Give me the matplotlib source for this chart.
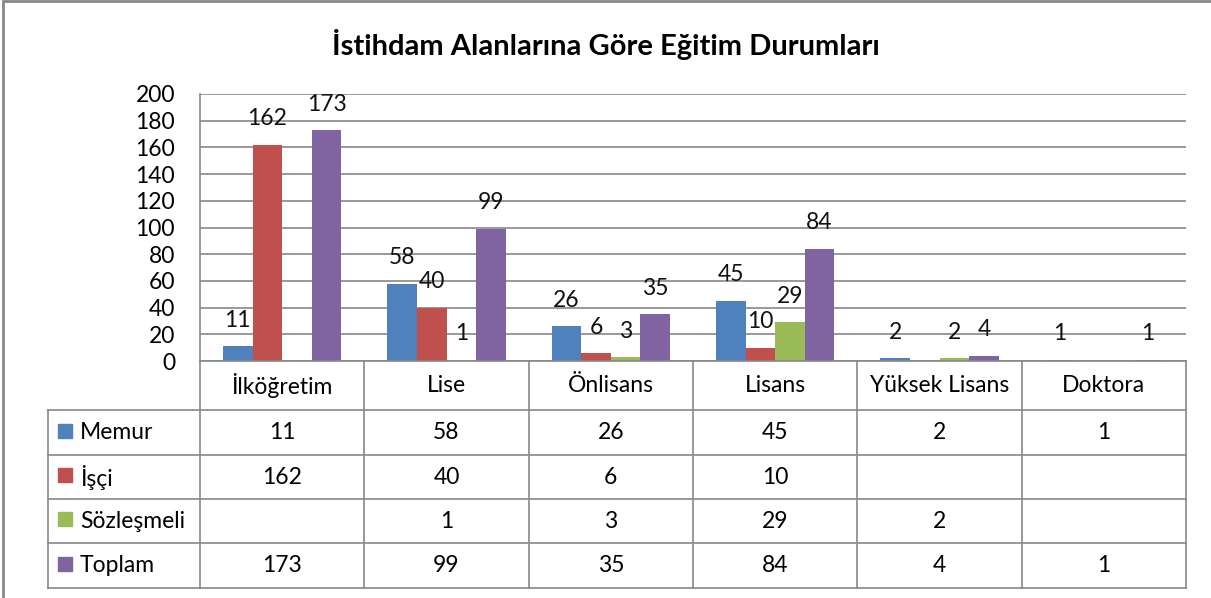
import matplotlib.pyplot as plt
from matplotlib.lines import Line2D
from matplotlib.patches import Rectangle
import numpy as np

plt.rcParams['font.family'] = ['Lato', 'DejaVu Sans']

categories = ['İlköğretim', 'Lise', 'Önlisans', 'Lisans', 'Yüksek Lisans', 'Doktora']
series_names = ['Memur', 'İşçi', 'Sözleşmeli', 'Toplam']
memur = [11, 58, 26, 45, 2, 1]
isci = [162, 40, 6, 10, None, None]
sozlesmeli = [None, 1, 3, 29, 2, None]
toplam = [173, 99, 35, 84, 4, 1]
colors = ['#4F81BD', '#C0504D', '#9BBB59', '#8064A2']

W, H = 1211, 598
FS = 16.5
fig = plt.figure(figsize=(W / 100, H / 100), dpi=100)

def fx(x):
    return x / W

def fy(y):
    return 1 - y / H

# outer chart border (only top/left visible in the crop)
fig.add_artist(Rectangle((fx(3), fy(640)), fx(1260), fy(1) - fy(640), fill=False,
                         edgecolor='#888888', lw=2, transform=fig.transFigure))

left, right, top, bottom = 200, 1186, 94, 361
ax = fig.add_axes([fx(left), fy(bottom), fx(right - left), fy(top) - fy(bottom)])

all_series = [memur, isci, sozlesmeli, toplam]
x = np.arange(len(categories))
bw = 0.18
for i, (vals, c) in enumerate(zip(all_series, colors)):
    pos = x + (i - 1.5) * bw
    v = [np.nan if a is None else a for a in vals]
    ax.bar(pos, v, bw, color=c, zorder=3)
    for p, a in zip(pos, vals):
        if a is not None:
            ax.annotate(str(a), (p, a), xytext=(0, 14), textcoords='offset points',
                        ha='center', va='baseline', fontsize=FS, color='#111111', zorder=4)

ax.set_xlim(-0.5, len(categories) - 0.5)
ax.set_ylim(0, 200)
ax.set_yticks(range(0, 201, 20))
ax.tick_params(axis='y', length=0, pad=18, labelsize=FS)
ax.set_xticks([])
ax.grid(axis='y', color='#888888', lw=1.2, zorder=0)
for s in ['top', 'right', 'bottom']:
    ax.spines[s].set_visible(False)
ax.spines['left'].set_color('#888888')
ax.spines['left'].set_linewidth(1.2)

fig.text(fx(606), fy(44), 'İstihdam Alanlarına Göre Eğitim Durumları', ha='center', va='center',
         fontsize=21, fontweight='bold')

# data table under the plot
col_w = (right - left) / len(categories)
rows = [361, 410, 455, 499, 543, 588]
tab_left = 48
lc = '#888888'

def hline(y, x0, x1):
    fig.add_artist(Line2D([fx(x0), fx(x1)], [fy(y), fy(y)], color=lc, lw=1.2,
                          transform=fig.transFigure))

def vline(xp, y0, y1):
    fig.add_artist(Line2D([fx(xp), fx(xp)], [fy(y0), fy(y1)], color=lc, lw=1.2,
                          transform=fig.transFigure))

hline(rows[0], left, right)
for r in rows[1:]:
    hline(r, tab_left, right)
vline(tab_left, rows[1], rows[-1])
for k in range(len(categories) + 1):
    vline(left + k * col_w, rows[0], rows[-1])

for k, cat in enumerate(categories):
    cx = left + (k + 0.5) * col_w
    fig.text(fx(cx), fy((rows[0] + rows[1]) / 2), cat, ha='center', va='center', fontsize=FS)

for j, (name, vals, c) in enumerate(zip(series_names, all_series, colors)):
    cy = (rows[j + 1] + rows[j + 2]) / 2
    fig.add_artist(Rectangle((fx(58), fy(cy + 5)), fx(14), fy(cy - 9) - fy(cy + 5),
                             color=c, transform=fig.transFigure))
    fig.text(fx(80), fy(cy), name, ha='left', va='center', fontsize=FS)
    for k, a in enumerate(vals):
        if a is not None:
            cx = left + (k + 0.5) * col_w
            fig.text(fx(cx), fy(cy), str(a), ha='center', va='center', fontsize=FS)

fig.savefig('out.png', dpi=100)
